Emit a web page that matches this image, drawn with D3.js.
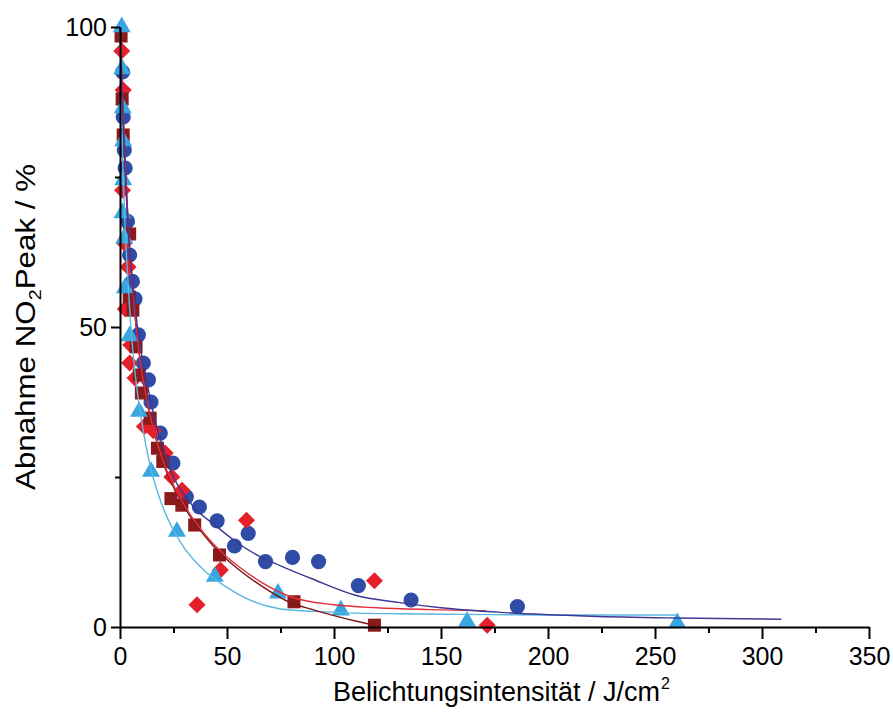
<!DOCTYPE html>
<html>
<head>
<meta charset="utf-8">
<script src="https://cdn.jsdelivr.net/npm/d3@7"></script>
<style>
  html, body { margin: 0; padding: 0; background: #fff; }
  svg { display: block; font-family: "Liberation Sans", Arial, sans-serif; }
</style>
</head>
<body>
<svg id="chart" width="893" height="727"></svg>
<script>
// ---- data ----
const xMajorTicks = [0, 50, 100, 150, 200, 250, 300, 350];
const xMinorTicks = [25, 75, 125, 175, 225, 275, 325];
const yMajorTicks = [0, 50, 100];
const yMinorTicks = [25, 75];

// dark blue circles
const circlesX = [1.2, 1.5, 2, 2.4, 3.5, 4.5, 5.8, 7, 8.6, 10.9, 13.3, 14.5, 18.8, 24.7, 31, 37.1, 45.4, 53.5, 59.9, 68, 80.6, 92.8, 111.4, 136, 185.7];
const circlesY = [92.5, 85, 79.5, 76.5, 67.6, 62, 57.6, 54.7, 48.7, 44, 41.2, 37.5, 32.3, 27.3, 21.7, 20, 17.7, 13.5, 15.6, 10.9, 11.6, 10.9, 6.9, 4.5, 3.4];

// red diamonds
const diamondsX = [0.8, 1.5, 1.2, 2, 3.8, 2.5, 5, 4.5, 7, 11.4, 15.6, 21.1, 24.2, 29, 36, 46.9, 59.1, 118.9, 171.6];
const diamondsY = [96, 89.5, 72.8, 64, 60, 53, 47, 44, 41.5, 33.4, 32.7, 29, 25, 22.8, 3.7, 9.5, 17.8, 7.7, 0.3];

// dark red squares
const squaresX = [0.5, 1, 1.5, 4.5, 4.3, 6, 7.5, 9, 10, 14.1, 17.5, 20, 23.8, 28.9, 34.9, 46.5, 81.3, 118.9];
const squaresY = [98.5, 88, 82, 65.5, 55, 52.8, 46.7, 42, 39, 34.8, 29.8, 27.6, 21.4, 20.3, 17, 12, 4.2, 0.3];

// light blue triangles
const trianglesX = [0.8, 1, 1.3, 1.5, 1.5, 1.2, 2, 2.3, 4.5, 8.9, 14.5, 26.6, 44.3, 73.8, 103.2, 162.2, 260.4];
const trianglesY = [100, 93, 86.5, 81, 74.5, 69, 64.8, 56.5, 48.5, 35.9, 25.9, 15.9, 8.4, 5.6, 2.8, 0.9, 0.7];

// fitted curves
const navyFitX = [0, 0.5, 1, 2, 3, 4, 6, 8, 10, 13, 16, 20, 25, 30, 35, 45, 55, 65, 75, 90, 110, 130, 150, 180, 220, 260, 309];
const navyFitY = [100, 94, 88, 79, 71.5, 65.5, 57, 50.5, 45.5, 40, 35, 30, 25, 22, 19.8, 16.8, 14, 11.8, 10.2, 8, 5.3, 4.1, 3.2, 2.4, 1.8, 1.5, 1.3];

const redFitX = [0, 0.5, 1, 2, 3, 4, 6, 8, 10, 13, 16, 20, 25, 30, 35, 40, 46.5, 55, 65, 80, 100, 120, 145, 171];
const redFitY = [100, 95, 90, 81, 73, 66, 56, 48.5, 43, 37, 32.5, 27.8, 23.6, 20.3, 17.6, 15.3, 12.8, 10.2, 7.7, 5.0, 3.7, 3.2, 2.9, 2.7];

const darkRedFitX = [0, 0.5, 1, 2, 3, 4, 6, 8, 10, 13, 16, 20, 25, 30, 35, 40, 46.5, 55, 65, 80, 90, 100, 110, 119];
const darkRedFitY = [100, 95, 90, 81, 73, 66, 56, 48.5, 43, 37, 32.5, 27.5, 23.3, 20, 17.3, 15, 12.4, 9.7, 7.1, 4.0, 2.9, 1.9, 1.0, 0.3];

const lightBlueFitX = [0, 0.5, 1, 2, 4, 6, 8, 10, 14, 18, 22, 26, 30, 35, 40, 50, 60, 75, 90, 103, 130, 160, 200, 260];
const lightBlueFitY = [100, 90, 81, 70, 56, 46, 39.5, 34.5, 27, 22, 18.3, 15.5, 13.2, 11, 9.2, 6.6, 4.6, 3.0, 2.6, 2.4, 2.2, 2.1, 2.0, 2.0];

// ---- chart ----
const svg = d3.select("#chart");
const x = d3.scaleLinear().domain([0, 350]).range([120, 869]);
const y = d3.scaleLinear().domain([0, 100]).range([627, 27]);

const colors = {
  navy: "#2f4ca6", red: "#e5202a", darkRed: "#8a1a1c", lightBlue: "#38a6e0",
  navyLine: "#3d3896", redLine: "#e0303c", darkRedLine: "#7a1518", lightBlueLine: "#5cb6e2"
};

const zip = (xs, ys) => xs.map((v, i) => [v, ys[i]]);

// markers
const gMarks = svg.append("g");
gMarks.selectAll("circle.c").data(zip(circlesX, circlesY)).join("circle")
  .attr("class", "c").attr("cx", d => x(d[0])).attr("cy", d => y(d[1])).attr("r", 7.6)
  .attr("fill", colors.navy);
gMarks.selectAll("path.d").data(zip(diamondsX, diamondsY)).join("path")
  .attr("class", "d")
  .attr("d", d3.symbol(d3.symbolSquare, 145))
  .attr("transform", d => `translate(${x(d[0])},${y(d[1])}) rotate(45)`)
  .attr("fill", colors.red);
gMarks.selectAll("path.s").data(zip(squaresX, squaresY)).join("path")
  .attr("class", "s")
  .attr("d", d3.symbol(d3.symbolSquare, 170))
  .attr("transform", d => `translate(${x(d[0])},${y(d[1])})`)
  .attr("fill", colors.darkRed);
gMarks.selectAll("path.t").data(zip(trianglesX, trianglesY)).join("path")
  .attr("class", "t")
  .attr("d", d3.symbol(d3.symbolTriangle, 140))
  .attr("transform", d => `translate(${x(d[0])},${y(d[1])})`)
  .attr("fill", colors.lightBlue);

// fit lines
const line = d3.line().x(d => x(d[0])).y(d => y(d[1])).curve(d3.curveMonotoneX);
const fits = [
  [zip(lightBlueFitX, lightBlueFitY), colors.lightBlueLine],
  [zip(darkRedFitX, darkRedFitY), colors.darkRedLine],
  [zip(redFitX, redFitY), colors.redLine],
  [zip(navyFitX, navyFitY), colors.navyLine]
];
svg.append("g").selectAll("path").data(fits).join("path")
  .attr("d", d => line(d[0]))
  .attr("fill", "none").attr("stroke", d => d[1]).attr("stroke-width", 1.4);

// axes
function styleAxis(g) {
  g.select(".domain").attr("stroke", "#000").attr("stroke-width", 2);
  g.selectAll(".tick line").attr("stroke", "#000").attr("stroke-width", 2);
  g.selectAll(".tick text").attr("font-size", 25).attr("fill", "#000")
    .attr("font-family", '"Liberation Sans", Arial, sans-serif');
}
const xAxis = svg.append("g").attr("transform", `translate(0,${y(0)})`)
  .call(d3.axisBottom(x).tickValues(xMajorTicks).tickSize(12).tickSizeOuter(0).tickPadding(8).tickFormat(d3.format("d")));
styleAxis(xAxis);
const xMinor = svg.append("g").attr("transform", `translate(0,${y(0)})`)
  .call(d3.axisBottom(x).tickValues(xMinorTicks).tickSize(6).tickFormat(""));
xMinor.select(".domain").remove();
styleAxis(xMinor);

const yAxis = svg.append("g").attr("transform", `translate(${x(0)},0)`)
  .call(d3.axisLeft(y).tickValues(yMajorTicks).tickSize(9).tickSizeOuter(0).tickPadding(4).tickFormat(d3.format("d")));
styleAxis(yAxis);
const yMinor = svg.append("g").attr("transform", `translate(${x(0)},0)`)
  .call(d3.axisLeft(y).tickValues(yMinorTicks).tickSize(5).tickFormat(""));
yMinor.select(".domain").remove();
styleAxis(yMinor);

// x axis title with separate superscript
const xtMain = svg.append("text")
  .attr("y", 701).attr("text-anchor", "start")
  .attr("font-size", 27).attr("fill", "#000")
  .text("Belichtungsintensität / J/cm");
const xtW = xtMain.node().getComputedTextLength();
const xtSupW = 9;
const xtStart = 501 - (xtW + xtSupW) / 2;
xtMain.attr("x", xtStart);
svg.append("text")
  .attr("x", xtStart + xtW + 1).attr("y", 689)
  .attr("font-size", 16).attr("fill", "#000")
  .text("2");

// y axis title
const yt = svg.append("text")
  .attr("transform", "translate(35,327) rotate(-90)")
  .attr("text-anchor", "middle")
  .attr("font-size", 27).attr("fill", "#000")
  .attr("textLength", 326).attr("lengthAdjust", "spacingAndGlyphs");
yt.append("tspan").text("Abnahme NO");
yt.append("tspan").attr("dy", 6).attr("font-size", 17).text("2");
yt.append("tspan").attr("dy", -6).text("Peak / %");
</script>
</body>
</html>
